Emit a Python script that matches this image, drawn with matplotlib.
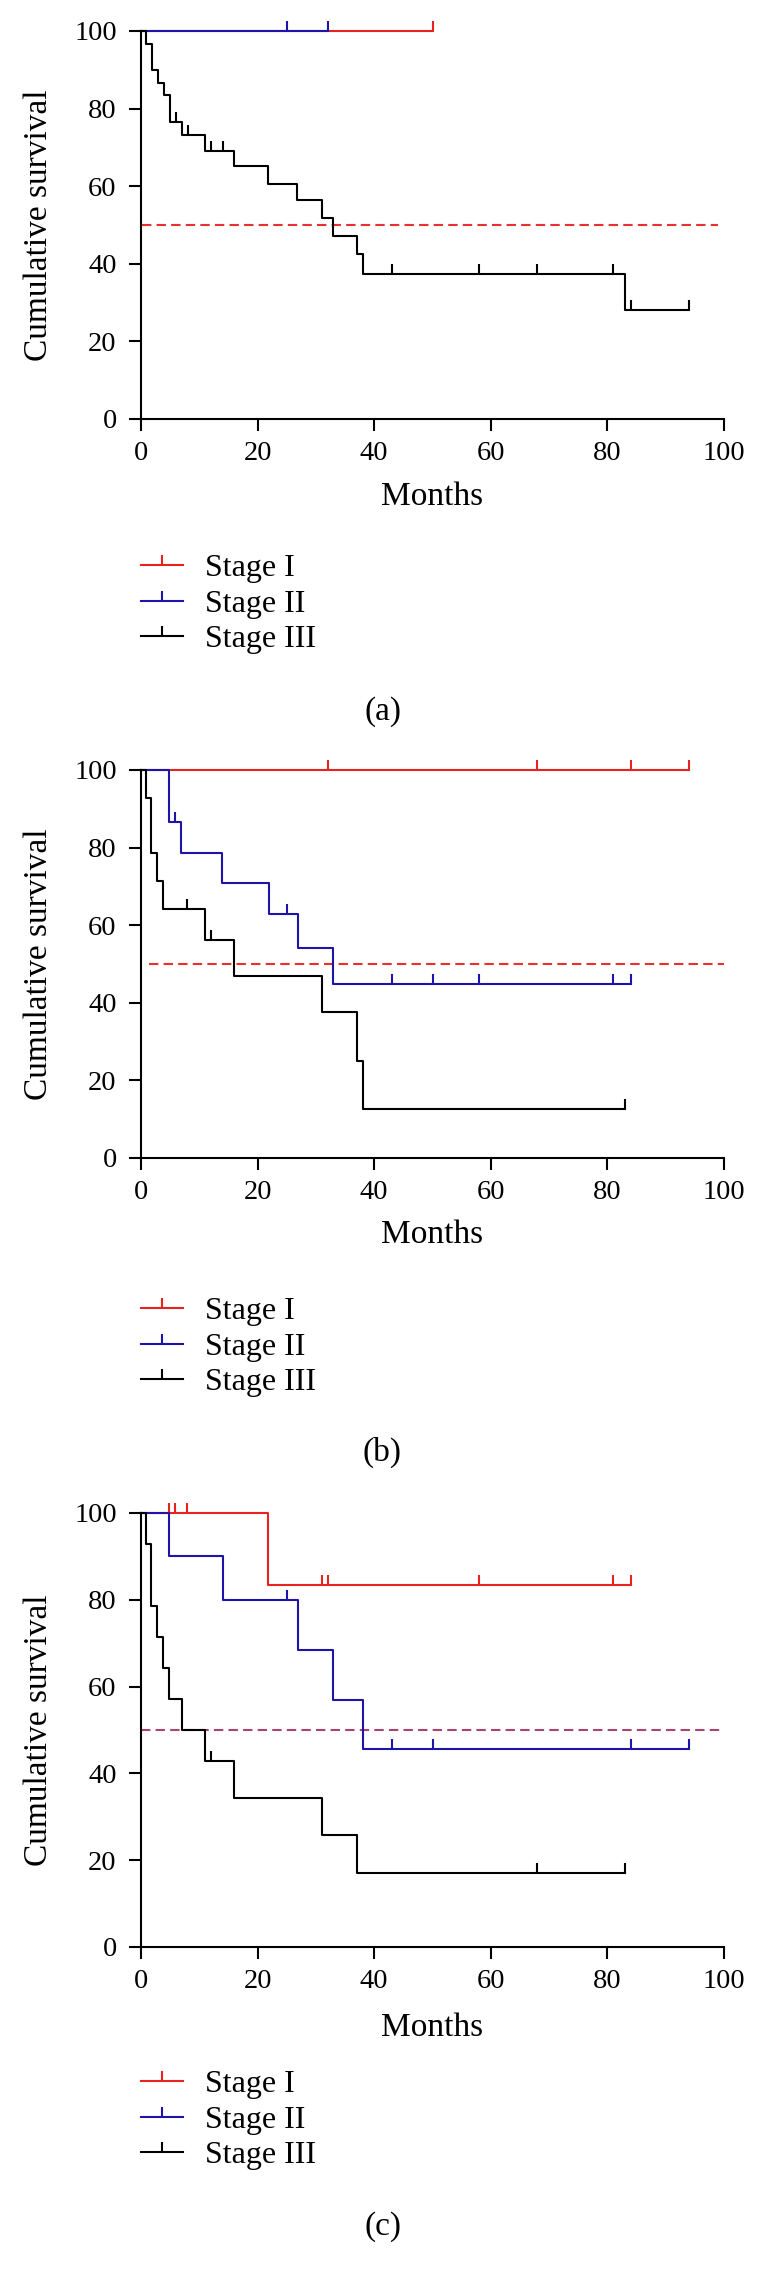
import matplotlib
matplotlib.use("Agg")
import matplotlib.pyplot as plt
from matplotlib.lines import Line2D
import numpy as np

plt.rcParams['font.family'] = ['Liberation Serif', 'DejaVu Serif']

W, H = 765, 2291

# ---- panel (a) ----
a_t1 = [0, 50]
a_s1 = [100, 100]
a_c1 = [50]
a_t2 = [0, 32]
a_s2 = [100, 100]
a_c2 = [25, 32]
a_t3 = [0, 0.8, 1.9, 2.9, 3.9, 4.9, 7, 10.9, 16, 21.8, 26.8, 31, 33, 37, 38, 83, 94]
a_s3 = [100, 96.7, 90, 86.7, 83.5, 76.6, 73.2, 69.2, 65.2, 60.6, 56.4, 51.8, 47.2, 42.4, 37.4, 28.1, 28.1]
a_c3 = [6, 8, 12, 14, 43, 58, 68, 81, 84, 94]
a_med = [0.2, 98.9]

# ---- panel (b) ----
b_t1 = [0, 94]
b_s1 = [100, 100]
b_c1 = [32, 68, 84, 94]
b_t2 = [0, 4.8, 6.9, 13.9, 22, 27, 33, 84]
b_s2 = [100, 86.7, 78.6, 70.8, 63.0, 54.0, 44.9, 44.9]
b_c2 = [5.8, 25, 43, 50, 58, 81, 84]
b_t3 = [0, 0.8, 1.8, 2.8, 3.8, 11, 16, 31, 37, 38, 83]
b_s3 = [100, 92.9, 78.6, 71.4, 64.3, 56.2, 46.8, 37.5, 25.0, 12.5, 12.5]
b_c3 = [7.9, 12, 83]
b_med = [1.3, 100]

# ---- panel (c) ----
c_t1 = [0, 21.8, 84]
c_s1 = [100, 83.3, 83.3]
c_c1 = [4.8, 5.8, 7.9, 31, 32, 58, 81, 84]
c_t2 = [0, 4.8, 14, 27, 33, 38, 94]
c_s2 = [100, 90, 80, 68.4, 57.0, 45.6, 45.6]
c_c2 = [25, 43, 50, 84, 94]
c_t3 = [0, 0.8, 1.8, 2.8, 3.8, 4.8, 7, 11, 16, 31, 37, 83]
c_s3 = [100, 92.9, 78.6, 71.4, 64.3, 57.1, 50, 42.9, 34.3, 25.7, 17.1, 17.1]
c_c3 = [12, 68, 83]
c_med = [0, 100]

labels = ['Stage I', 'Stage II', 'Stage III']
colors = ['#e8221f', '#1e14aa', 'black']
med_colors = ['#e8302e', '#e8302e', '#a8446f']
tags = ['(a)', '(b)', '(c)']

panels = [
    ([(a_t1, a_s1, a_c1), (a_t2, a_s2, a_c2), (a_t3, a_s3, a_c3)], a_med),
    ([(b_t1, b_s1, b_c1), (b_t2, b_s2, b_c2), (b_t3, b_s3, b_c3)], b_med),
    ([(c_t1, c_s1, c_c1), (c_t2, c_s2, c_c2), (c_t3, c_s3, c_c3)], c_med),
]

# layout in pixels: axes top, axes bottom, tick row, xlabel, legend middle row, tag
geo = [
    (31, 419, 497, 604, 712),
    (770, 1158, 1235, 1347, 1452),
    (1513, 1947, 2028, 2120, 2227),
]
x_left, x_right = 141, 724
LW = 1.5

fig = plt.figure(figsize=(W / 100, H / 100), dpi=100)

for k, (curves, med) in enumerate(panels):
    top, bot, xl_y, leg_y, tag_y = geo[k]
    ax = fig.add_axes([x_left / W, 1 - bot / H, (x_right - x_left) / W, (bot - top) / H])
    for j, (t, s, cens) in enumerate(curves):
        ax.plot(t, s, drawstyle='steps-post', color=colors[j], lw=LW,
                clip_on=False, zorder=3 + j)
        t = np.asarray(t)
        s = np.asarray(s)
        idx = np.searchsorted(t, cens, side='right') - 1
        ax.plot(cens, s[idx], ls='none', marker=2, ms=7.5, mew=LW,
                color=colors[j], clip_on=False, zorder=3 + j)
    ax.plot(med, [50, 50], color=med_colors[k], lw=LW, dashes=(4.5, 2.5), zorder=2)

    ax.set_xlim(0, 100)
    ax.set_ylim(0, 100)
    ax.set_xticks(range(0, 101, 20))
    ax.set_yticks(range(0, 101, 20))
    for sp in ['top', 'right']:
        ax.spines[sp].set_visible(False)
    for sp in ['left', 'bottom']:
        ax.spines[sp].set_linewidth(LW)
    ax.tick_params(direction='out', length=8.5, width=LW, labelsize=20.5)
    ax.tick_params(axis='y', pad=9)
    ax.tick_params(axis='x', pad=7)

    fig.text(39 / W, 1 - (top + bot) / 2 / H, 'Cumulative survival', rotation=90,
             ha='center', va='center', fontsize=24)
    fig.text((x_left + x_right) / 2 / W, 1 - xl_y / H, 'Months',
             ha='center', va='center', fontsize=24)

    handles = [Line2D([], [], color=colors[j], lw=LW, marker=2, ms=7.5, mew=LW)
               for j in range(3)]
    fig.legend(handles, labels, loc='center left',
               bbox_to_anchor=(x_left / W, 1 - leg_y / H), frameon=False,
               fontsize=23, numpoints=1, handlelength=1.3, handletextpad=0.7,
               labelspacing=0.2, borderpad=0, borderaxespad=0)
    fig.text(W / 2 / W, 1 - tag_y / H, tags[k], ha='center', va='center', fontsize=24)

fig.savefig('out.png', dpi=100)
